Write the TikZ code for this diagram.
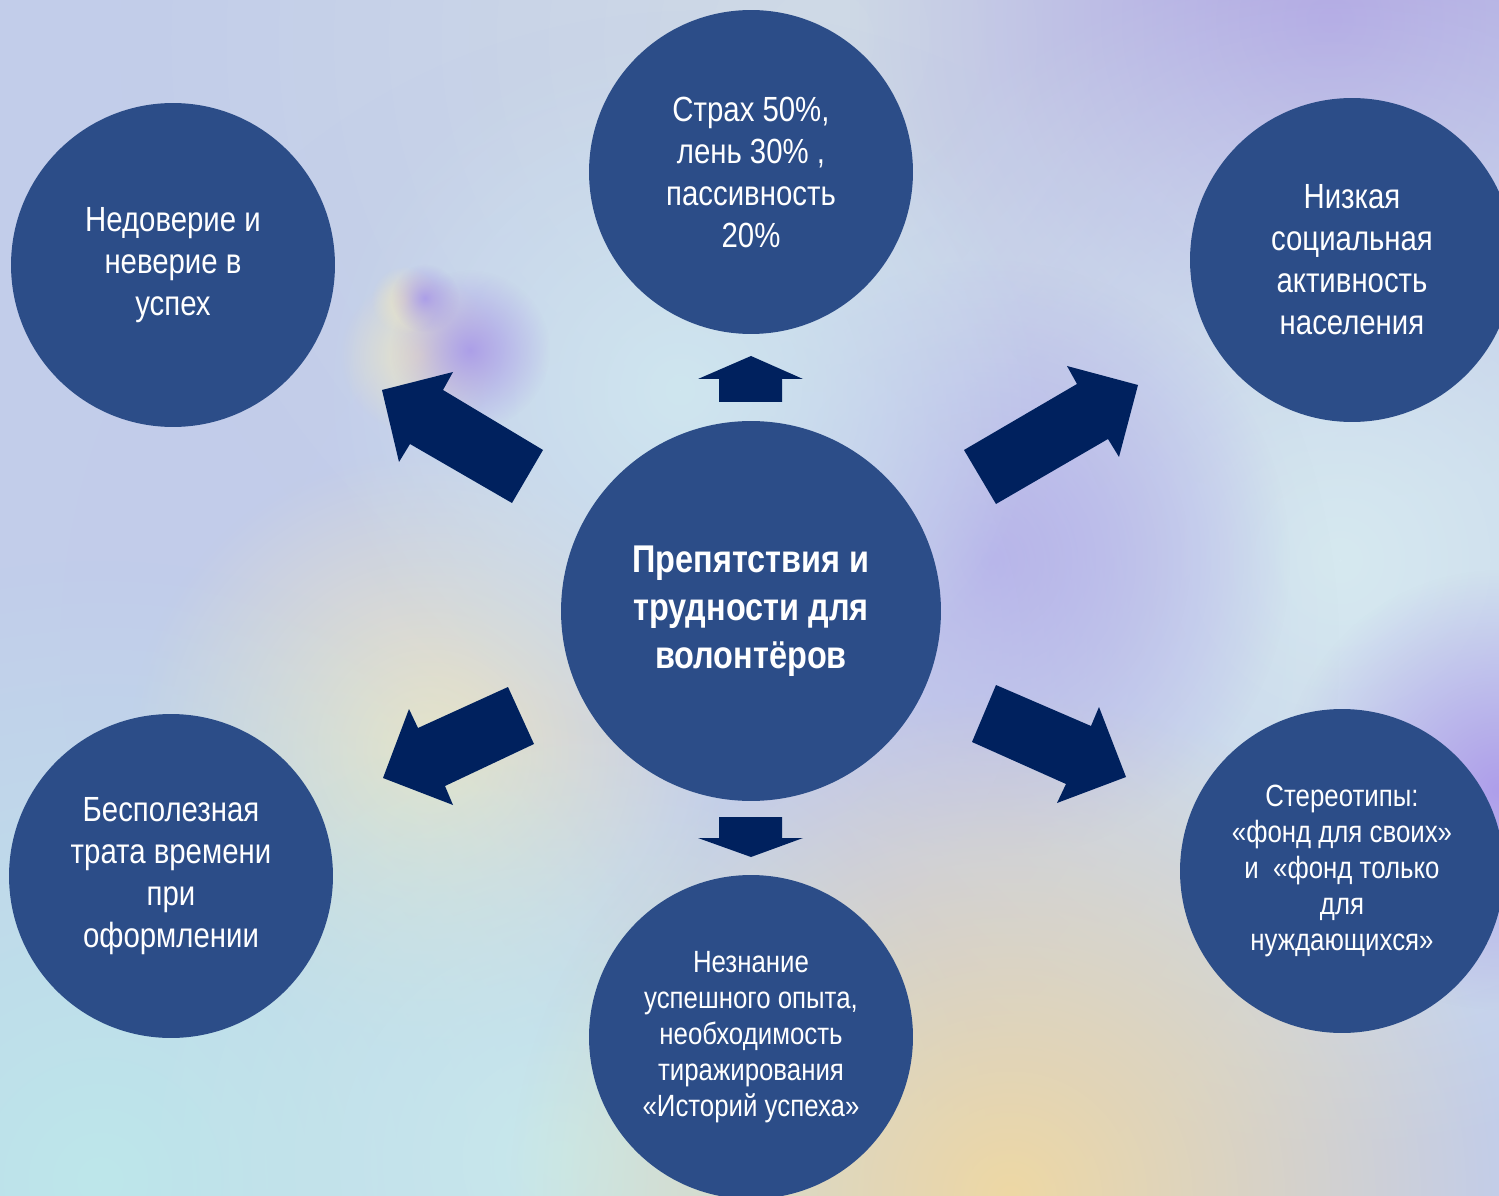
\documentclass[tikz,border=0pt]{standalone}
\usepackage{fontspec}
\setmainfont{Liberation Sans}[FakeStretch=0.84]
\usetikzlibrary{fadings}
\tikzfading[name=softfade, inner color=transparent!0, outer color=transparent!100]
\definecolor{bgbase}{HTML}{C2CDEA}
\definecolor{circfill}{HTML}{2C4D88}
\definecolor{arrowfill}{HTML}{00215E}
\definecolor{b1}{HTML}{CFDAE6}
\definecolor{b2}{HTML}{B2A8E4}
\definecolor{b3}{HTML}{D6E9F0}
\definecolor{b4}{HTML}{AC9FE8}
\definecolor{b5}{HTML}{EAE4C6}
\definecolor{b6}{HTML}{CFE6EF}
\definecolor{b7}{HTML}{BDE7EA}
\definecolor{b8}{HTML}{EED8A4}
\definecolor{b9}{HTML}{C8E9EC}
\definecolor{b10}{HTML}{AE9EEA}
\definecolor{b11}{HTML}{C4CCEC}
\tikzset{
  blob/.style={fill=#1, path fading=softfade},
  bubble/.style={circle, fill=circfill, text=white, minimum size=6.48cm, inner sep=0pt, align=center,
    font=\fontsize{19.9}{23.9}\selectfont},
  smallbubble/.style={bubble, font=\fontsize{17.5}{20.5}\selectfont},
  hubbubble/.style={circle, fill=circfill, text=white, minimum size=7.6cm, inner sep=0pt, align=center,
    font=\bfseries\fontsize{22}{27.3}\selectfont},
  blockarrow/.style={fill=arrowfill, draw=none}
}
\begin{document}
\begin{tikzpicture}[x=0.02cm,y=-0.02cm]
\useasboundingbox (0,0) rectangle (1499,1196);
\clip (0,0) rectangle (1499,1196);
% background
\fill[bgbase] (0,0) rectangle (1499,1196);
\fill[blob=b1] (820,40) circle (700);
\fill[blob=b2] (1330,20) circle (480);
\fill[blob=b3] (1340,560) circle (600);
\fill[blob=b10] (1499,790) circle (220);
\fill[blob=b4] (990,560) circle (300);
\fill[blob=b11] (700,650) circle (640);
\fill[blob=b5] (430,750) circle (300);
\fill[blob=b6] (680,390) circle (360);
\fill[blob=b7] (100,1180) circle (620);
\fill[blob=b9] (560,1160) circle (440);
\fill[blob=b8] (1010,1196) circle (500);
\fill[blob=b5] (420,355) circle (80);
\fill[blob=b4] (470,350) circle (80);
\fill[blob=b5] (405,300) circle (34);
\fill[blob=b4] (425,298) circle (34);
% circles
\node[hubbubble] (hub) at (751,611) {Препятствия и\\трудности для\\волонтёров};
\node[bubble] (fear) at (751,172) {Страх 50\%,\\лень 30\% ,\\пассивность\\20\%};
\node[bubble] (distrust) at (173,265) {Недоверие и\\неверие в\\успех};
\node[bubble] (activity) at (1352,260) {Низкая\\социальная\\активность\\населения};
\node[bubble] (waste) at (171,876) {Бесполезная\\трата времени\\при\\оформлении};
\node[smallbubble] (ignorance) at (751,1037) {Незнание\\успешного опыта,\\необходимость\\тиражирования\\«Историй успеха»};
\node[smallbubble] (stereo) at (1342,871) {Стереотипы:\\«фонд для своих»\\и\ \ «фонд только\\для\\нуждающихся»};
% block arrows
\fill[blockarrow] (751,356) -- (803,379) -- (782,379) -- (782,402) -- (719,402) -- (719,379) -- (698,379) -- cycle;
\fill[blockarrow] (751,857) -- (803,838) -- (782,838) -- (782,817) -- (719,817) -- (719,838) -- (698,838) -- cycle;
\fill[blockarrow] (382,390) -- (453,372) -- (443,390) -- (543,450) -- (512,503) -- (410,444) -- (399,462) -- cycle;
\fill[blockarrow] (1138,385) -- (1067,366) -- (1077,384) -- (964,450) -- (996,504) -- (1108,439) -- (1119,457) -- cycle;
\fill[blockarrow] (383,778) -- (409,709) -- (418,728) -- (508,687) -- (534,744) -- (445,786) -- (453,805) -- cycle;
\fill[blockarrow] (1126,777) -- (1099,707) -- (1091,726) -- (996,685) -- (972,742) -- (1066,784) -- (1057,803) -- cycle;
\end{tikzpicture}
\end{document}
